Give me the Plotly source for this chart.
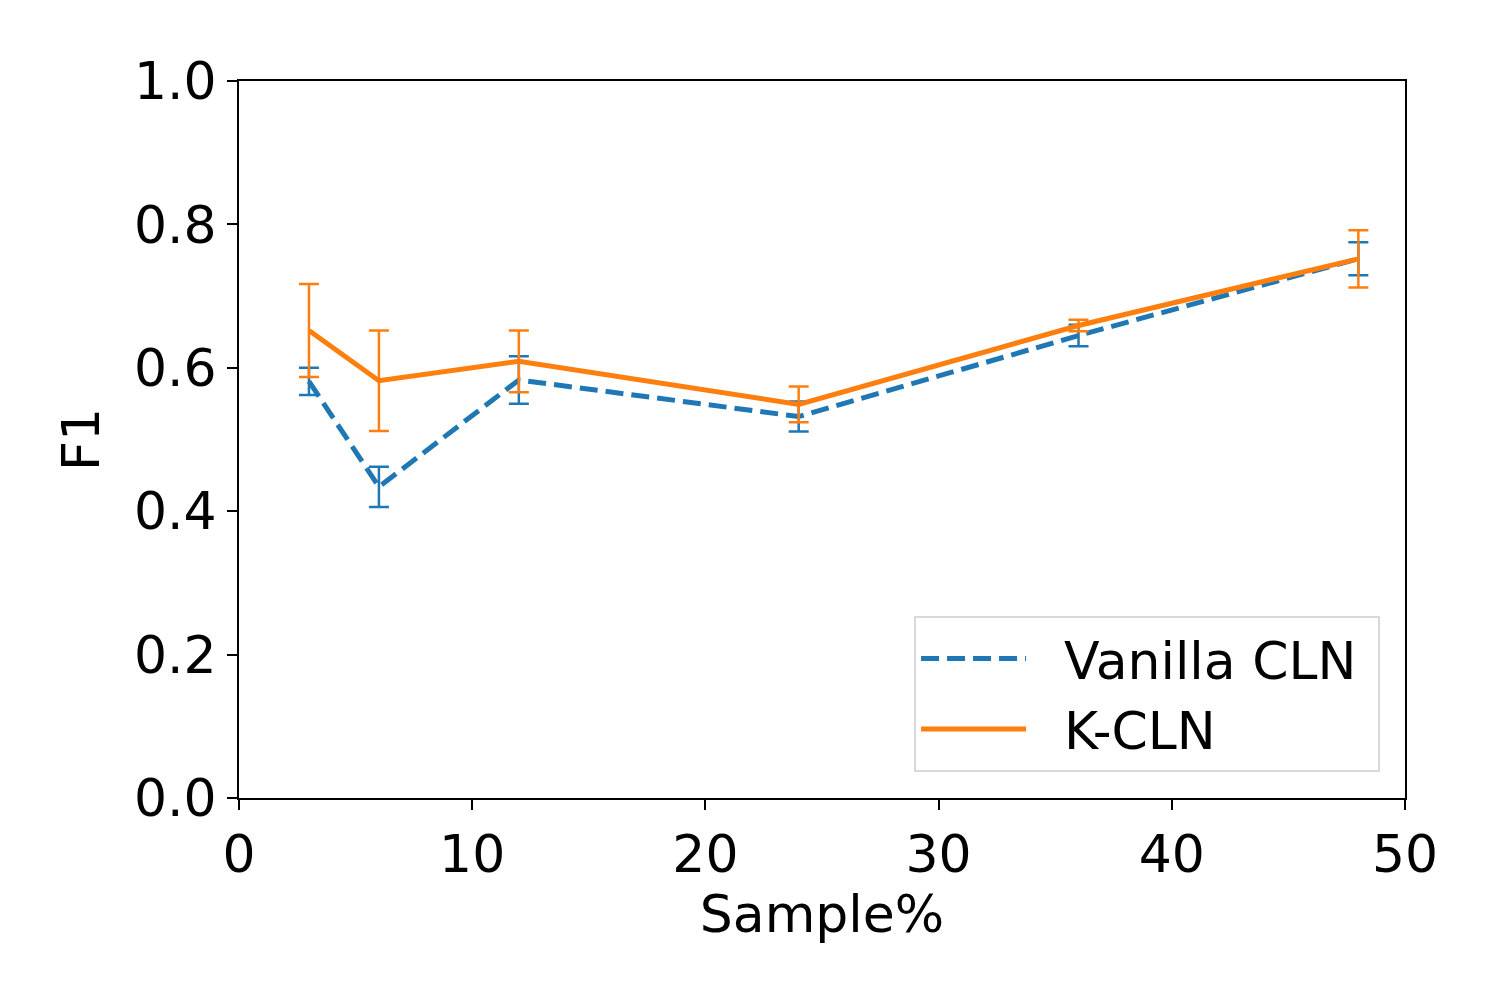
import plotly.graph_objects as go

sample_pct = [3, 6, 12, 24, 36, 48]
vanilla_f1 = [0.581, 0.434, 0.583, 0.532, 0.645, 0.752]
vanilla_err = [0.019, 0.028, 0.033, 0.021, 0.015, 0.023]
kcln_f1 = [0.652, 0.582, 0.609, 0.549, 0.659, 0.752]
kcln_err = [0.065, 0.070, 0.043, 0.025, 0.008, 0.040]

blue = "#1f77b4"
orange = "#ff7f0e"
font = "DejaVu Sans"
fsize = 52

fig = go.Figure()
fig.add_trace(go.Scatter(
    x=sample_pct, y=vanilla_f1, mode="lines", name="\u00a0\u00a0Vanilla CLN\u00a0",
    line=dict(color=blue, width=5, dash="18px,8px"),
    error_y=dict(type="data", array=vanilla_err, visible=True,
                 color=blue, thickness=2.5, width=10),
))
fig.add_trace(go.Scatter(
    x=sample_pct, y=kcln_f1, mode="lines", name="\u00a0\u00a0K-CLN",
    line=dict(color=orange, width=5),
    error_y=dict(type="data", array=kcln_err, visible=True,
                 color=orange, thickness=2.5, width=10),
))

axis_common = dict(
    showgrid=False, zeroline=False, showline=True, linecolor="black",
    linewidth=2, mirror=True, ticks="outside", ticklen=10, tickwidth=2,
    tickcolor="black", tickfont=dict(family=font, size=fsize, color="black"),
)
fig.update_xaxes(range=[0, 50], tickvals=[0, 10, 20, 30, 40, 50],
                 title=dict(text="Sample%", font=dict(family=font, size=fsize, color="black"), standoff=6),
                 **axis_common)
fig.update_yaxes(range=[0, 1.0], tickvals=[0, 0.2, 0.4, 0.6, 0.8, 1.0], tickformat=".1f",
                 title=dict(text="F1", font=dict(family=font, size=fsize, color="black"), standoff=18),
                 **axis_common)

fig.update_layout(
    width=1500, height=1000,
    margin=dict(l=239, r=95, t=81, b=202),
    paper_bgcolor="white", plot_bgcolor="white",
    font=dict(family=font, color="black"),
    legend=dict(x=0.9786, y=0.036, xanchor="right", yanchor="bottom",
                bgcolor="rgba(255,255,255,0.8)", bordercolor="#d9d9d9", borderwidth=2,
                font=dict(family=font, size=fsize, color="black"),
                itemwidth=105),
    showlegend=True,
)

fig.write_html("out.html")
